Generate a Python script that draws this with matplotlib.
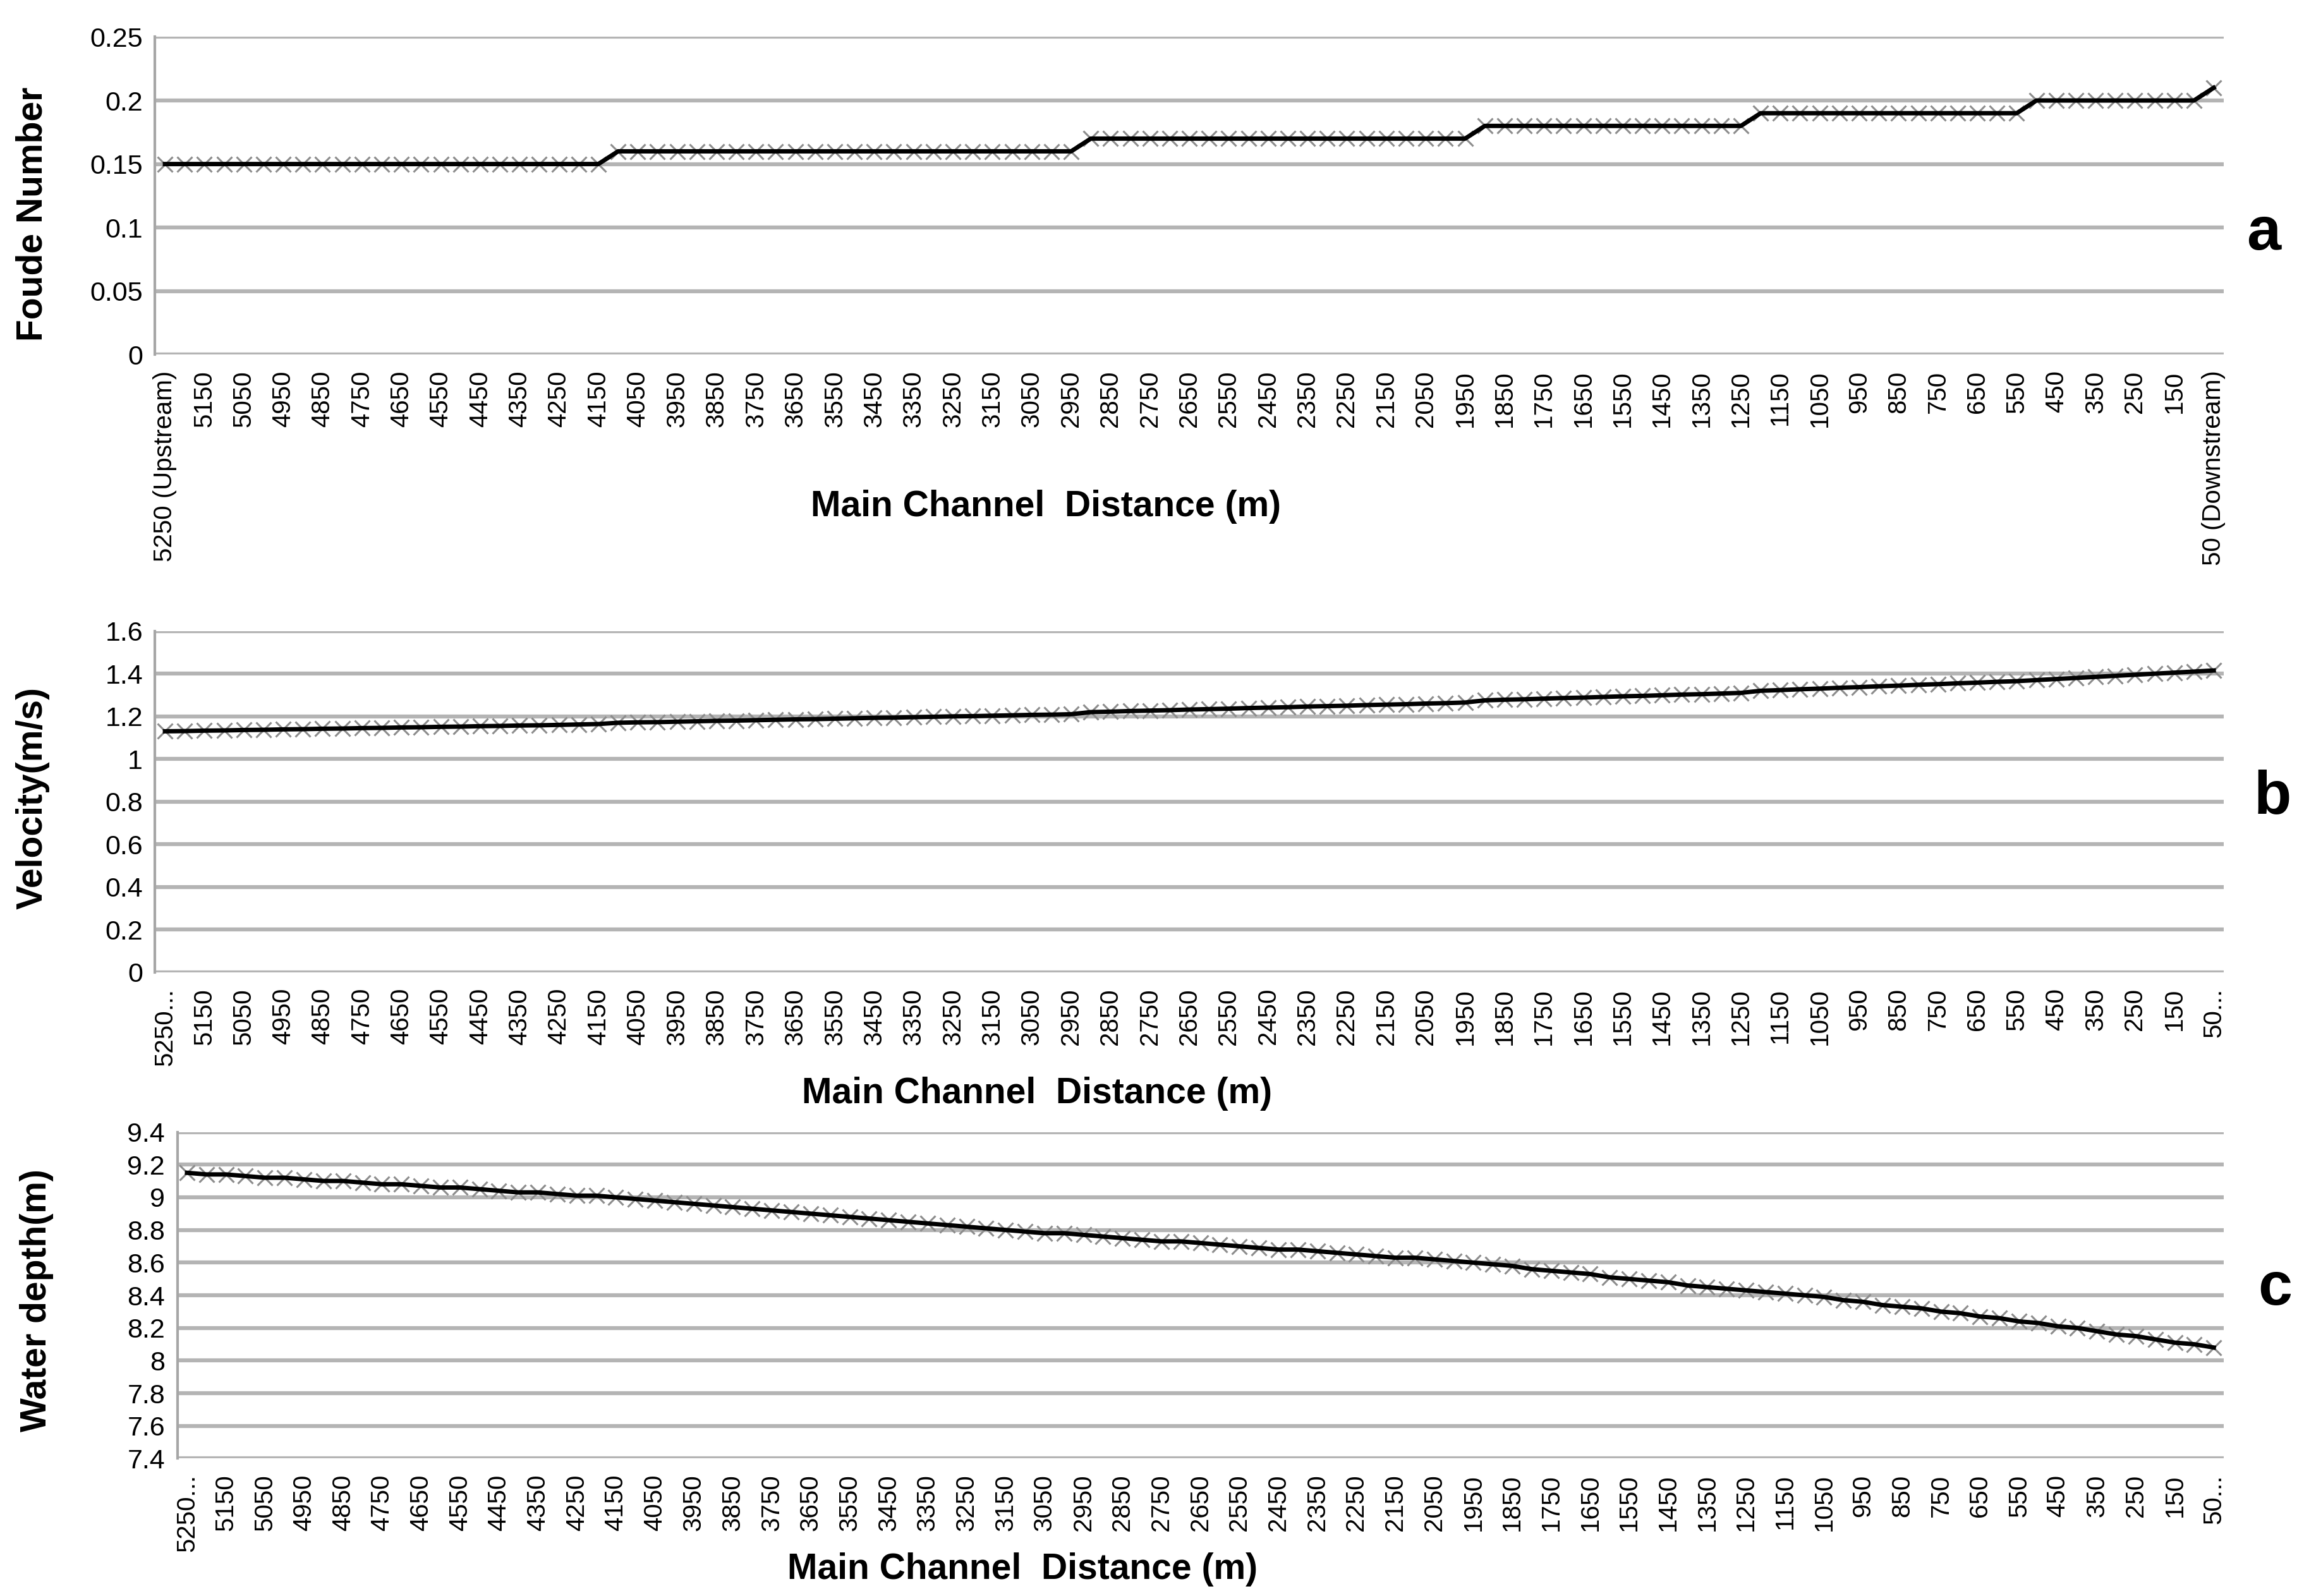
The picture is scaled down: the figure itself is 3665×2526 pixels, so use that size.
import matplotlib
matplotlib.use("Agg")
import matplotlib.pyplot as plt

plt.rcParams['font.family'] = ['Liberation Sans', 'DejaVu Sans']

# stations every 50 m, upstream -> downstream
stations = list(range(5250, 0, -50))

froude = [0.15, 0.15, 0.15, 0.15, 0.15, 0.15, 0.15, 0.15, 0.15, 0.15,
          0.15, 0.15, 0.15, 0.15, 0.15, 0.15, 0.15, 0.15, 0.15, 0.15,
          0.15, 0.15, 0.15,
          0.16, 0.16, 0.16, 0.16, 0.16, 0.16, 0.16, 0.16, 0.16, 0.16,
          0.16, 0.16, 0.16, 0.16, 0.16, 0.16, 0.16, 0.16, 0.16, 0.16,
          0.16, 0.16, 0.16, 0.16,
          0.17, 0.17, 0.17, 0.17, 0.17, 0.17, 0.17, 0.17, 0.17, 0.17,
          0.17, 0.17, 0.17, 0.17, 0.17, 0.17, 0.17, 0.17, 0.17, 0.17,
          0.18, 0.18, 0.18, 0.18, 0.18, 0.18, 0.18, 0.18, 0.18, 0.18,
          0.18, 0.18, 0.18, 0.18,
          0.19, 0.19, 0.19, 0.19, 0.19, 0.19, 0.19, 0.19, 0.19, 0.19,
          0.19, 0.19, 0.19, 0.19,
          0.20, 0.20, 0.20, 0.20, 0.20, 0.20, 0.20, 0.20, 0.20,
          0.21]

velocity = [1.130, 1.131, 1.133, 1.134, 1.136, 1.137, 1.139, 1.140, 1.142, 1.143,
            1.145, 1.146, 1.148, 1.149, 1.151, 1.152, 1.154, 1.155, 1.157, 1.158,
            1.160, 1.162, 1.164,
            1.170, 1.172, 1.173, 1.175, 1.177, 1.179, 1.180, 1.182, 1.184, 1.186,
            1.187, 1.189, 1.191, 1.193, 1.194, 1.196, 1.198, 1.200, 1.201, 1.203,
            1.205, 1.207, 1.208, 1.210,
            1.220, 1.222, 1.225, 1.227, 1.229, 1.232, 1.234, 1.236, 1.239, 1.241,
            1.243, 1.246, 1.248, 1.250, 1.253, 1.255, 1.257, 1.260, 1.262, 1.265,
            1.275, 1.278, 1.280, 1.283, 1.286, 1.288, 1.291, 1.294, 1.296, 1.299,
            1.302, 1.304, 1.307, 1.310,
            1.320, 1.323, 1.327, 1.330, 1.334, 1.337, 1.341, 1.344, 1.348, 1.351,
            1.355, 1.358, 1.362, 1.365,
            1.370, 1.375, 1.380, 1.385, 1.390, 1.395, 1.400, 1.405, 1.410, 1.415]

depth = [9.15, 9.14, 9.14, 9.13, 9.12, 9.12, 9.11, 9.10, 9.10, 9.09,
         9.08, 9.08, 9.07, 9.06, 9.06, 9.05, 9.04, 9.03, 9.03, 9.02,
         9.01, 9.01, 9.00,
         8.99, 8.98, 8.97, 8.96, 8.95, 8.94, 8.93, 8.92, 8.91, 8.90,
         8.89, 8.88, 8.87, 8.86, 8.85, 8.84, 8.83, 8.82, 8.81, 8.80,
         8.79, 8.78, 8.78, 8.77, 8.76, 8.75, 8.74, 8.73, 8.73, 8.72,
         8.71, 8.70, 8.69, 8.68, 8.68, 8.67, 8.66, 8.65, 8.64, 8.63,
         8.63, 8.62, 8.61, 8.60,
         8.59, 8.58, 8.56, 8.55, 8.54, 8.53, 8.51, 8.50, 8.49, 8.48,
         8.46, 8.45, 8.44, 8.43, 8.42, 8.41, 8.40,
         8.39, 8.37, 8.36, 8.34, 8.33, 8.32, 8.30, 8.29, 8.27, 8.26,
         8.24, 8.23, 8.21, 8.20,
         8.18, 8.16, 8.15, 8.13, 8.11, 8.10, 8.08]

# labels every 100 m
label_a = ["5250 (Upstream)"] + [str(s) for s in range(5150, 100, -100)] + ["50 (Downstream)"]
label_bc = ["5250..."] + [str(s) for s in range(5150, 100, -100)] + ["50..."]

yt_a = [0, 0.05, 0.1, 0.15, 0.2, 0.25]
yt_b = [0, 0.2, 0.4, 0.6, 0.8, 1, 1.2, 1.4, 1.6]
yt_c = [7.4, 7.6, 7.8, 8, 8.2, 8.4, 8.6, 8.8, 9, 9.2, 9.4]

W, H = 1568, 1080
fig = plt.figure(figsize=(36.66, 25.26), dpi=100)

def box(l, t, r, b):
    return [l / W, 1 - b / H, (r - l) / W, (b - t) / H]

axes = [fig.add_axes(box(105, 25, 1505, 240)),
        fig.add_axes(box(105, 427, 1505, 658)),
        fig.add_axes(box(120, 766, 1505, 987))]
series = [froude, velocity, depth]
yticks = [yt_a, yt_b, yt_c]
xlabels = [label_a, label_bc, label_bc]

for ax, y, yt, xl in zip(axes, series, yticks, xlabels):
    x = list(range(len(y)))
    ax.plot(x, y, linestyle='none', marker='x', ms=17, mew=2.2, color='#8c8c8c', zorder=3)
    ax.plot(x, y, color='black', lw=5, zorder=4)
    ax.set_xlim(-0.5, len(y) - 0.5)
    ax.set_ylim(yt[0], yt[-1])
    ax.set_yticks(yt)
    ax.set_yticklabels([('%g' % v) for v in yt], fontsize=31)
    ax.set_xticks(x[::2])
    ax.set_xticklabels(xl, rotation=90, fontsize=29, va='top')
    ax.tick_params(length=0, pad=14)
    ax.tick_params(axis='x', pad=18)
    ax.grid(axis='y', color='#b4b4b4', lw=4.5, zorder=0)
    ax.set_axisbelow(True)
    for s in ['top', 'right', 'bottom']:
        ax.spines[s].set_visible(False)
    ax.spines['left'].set_color('#a6a6a6')
    ax.spines['left'].set_linewidth(3)

bold = dict(fontweight='bold', ha='center', va='center')
fig.text(708 / W, 1 - 343 / H, "Main Channel  Distance (m)", fontsize=41, **bold)
fig.text(702 / W, 1 - 740 / H, "Main Channel  Distance (m)", fontsize=41, **bold)
fig.text(692 / W, 1 - 1062 / H, "Main Channel  Distance (m)", fontsize=41, **bold)
fig.text(22 / W, 1 - 145 / H, "Foude Number", rotation=90, fontsize=41, **bold)
fig.text(22 / W, 1 - 540 / H, "Velocity(m/s)", rotation=90, fontsize=41, **bold)
fig.text(25 / W, 1 - 880 / H, "Water depth(m)", rotation=90, fontsize=41, **bold)
fig.text(1532 / W, 1 - 158 / H, "a", fontsize=70, **bold)
fig.text(1538 / W, 1 - 540 / H, "b", fontsize=70, **bold)
fig.text(1540 / W, 1 - 872 / H, "c", fontsize=70, **bold)

fig.savefig("out.png", dpi=100, facecolor='white')
